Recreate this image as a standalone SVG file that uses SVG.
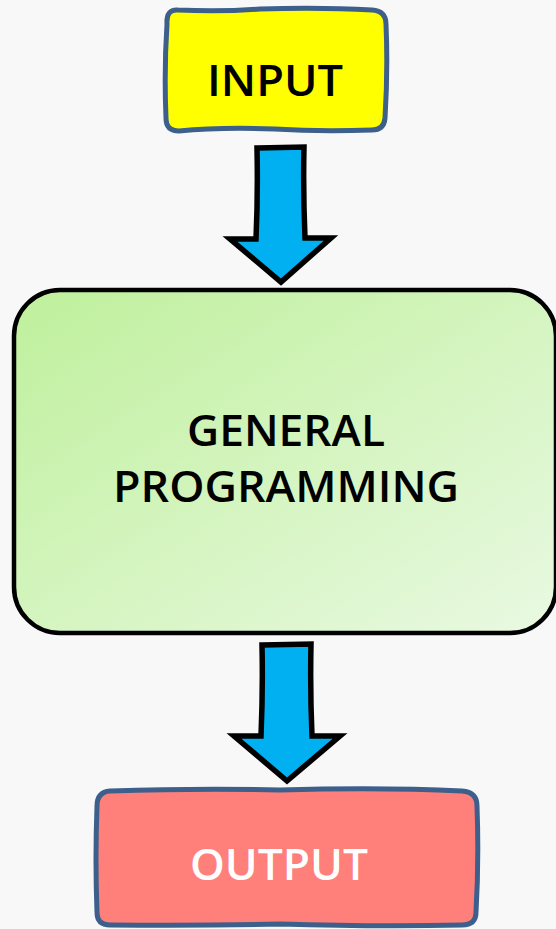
<svg xmlns="http://www.w3.org/2000/svg" width="556" height="929" viewBox="0 0 556 929">
  <style>
    .lbl { font-family: "Open Sans", "Liberation Sans", sans-serif; font-size: 44px; font-weight: 600; text-anchor: middle; }
    .sketch { stroke: #3d5f8c; stroke-width: 5; stroke-linejoin: round; }
    .arrow { fill: #00b0f0; stroke: #000; stroke-width: 5.5; stroke-linejoin: miter; }
  </style>
  <defs>
    <linearGradient id="greenFill" x1="0" y1="0" x2="1" y2="1">
      <stop offset="0" stop-color="#bff09c"/>
      <stop offset="1" stop-color="#e9f9e2"/>
    </linearGradient>
  </defs>
  <rect width="556" height="929" fill="#f8f8f8"/>

  <g id="input">
    <path class="sketch" fill="#ffff00" d="M 178,10 Q 220,12 260,9 Q 320,7 372,10 Q 386,11 386,24 Q 388,70 385,118 Q 384,130 372,130 Q 320,132 275,129 Q 220,127 179,131 Q 166,131 166,118 Q 164,70 167,24 Q 166,9 178,10 Z"/>
    <text class="lbl" x="275" y="96" textLength="136" lengthAdjust="spacingAndGlyphs">INPUT</text>
  </g>

  <g id="general-programming">
    <rect x="14" y="290" width="542" height="343" rx="46" ry="46" fill="url(#greenFill)" stroke="#000" stroke-width="4.5"/>
    <text class="lbl" x="286" y="446" textLength="198" lengthAdjust="spacingAndGlyphs">GENERAL</text>
    <text class="lbl" x="286" y="502" textLength="346" lengthAdjust="spacingAndGlyphs">PROGRAMMING</text>
  </g>

  <g id="output">
    <path class="sketch" fill="#ff7f7b" d="M 110,791 Q 200,788 280,790 Q 380,787 462,791 Q 477,792 477,806 Q 479,860 476,912 Q 476,925 462,925 Q 380,927 280,924 Q 200,926 110,925 Q 97,925 97,912 Q 95,860 97,806 Q 97,792 110,791 Z"/>
    <text class="lbl" x="279" y="880" fill="#ffffff" textLength="178" lengthAdjust="spacingAndGlyphs">OUTPUT</text>
  </g>

  <g id="connectors">
    <path class="arrow" d="M 257,148 L 304,147 Q 303,190 305,238 L 331,238 L 281,282 L 230,239 L 256,239 Q 258,195 257,148 Z"/>
    <path class="arrow" d="M 262,645 L 311,644 Q 310,690 312,736 L 340,736 L 287,781 L 234,736 L 261,736 Q 263,690 262,645 Z"/>
  </g>
</svg>
